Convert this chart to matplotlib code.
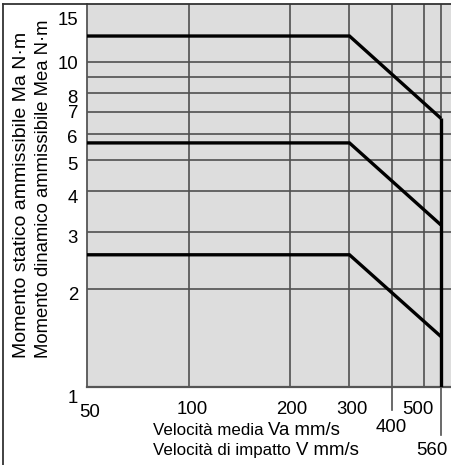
import matplotlib
matplotlib.use("Agg")
import matplotlib.pyplot as plt
import matplotlib.transforms as mtransforms
from matplotlib.lines import Line2D
from matplotlib.ticker import NullLocator

plt.rcParams['font.family'] = ['Liberation Sans', 'DejaVu Sans']

W, H, DPI = 451, 465, 100

# ---------------- data ----------------
curve_x = [50, 300, 560]
curve_top = [12.0, 12.0, 6.7]
curve_mid = [5.63, 5.63, 3.15]
curve_low = [2.55, 2.55, 1.43]
vline_x = [560, 560]
vline_y = [1.0, 6.7]

x_grid = [100, 200, 300, 400, 500, 560]
y_grid = [2, 3, 4, 5, 6, 7, 8, 9, 10]

x_tick_vals = [50, 100, 200, 300, 500, 400, 560]
x_tick_labels = ['50', '100', '200', '300', '500', '400', '560']
y_tick_vals = [1, 2, 3, 4, 5, 6, 7, 8, 10, 15]
y_tick_labels = ['1', '2', '3', '4', '5', '6', '7', '8', '10', '15']

ylabel_lines = ['Momento statico ammissibile Ma N·m',
                'Momento dinamico ammissibile Mea N·m']
xlabel_parts = [('Velocità media ', 'Va mm/s'),
                ('Velocità di impatto ', 'V mm/s')]

# ---------------- figure ----------------
fig = plt.figure(figsize=(W / DPI, H / DPI), dpi=DPI)
fig.patch.set_facecolor('white')
ax_left, ax_bottom_px, ax_top_px = 87, 387, 4.5
ax = fig.add_axes([ax_left / W, 1 - ax_bottom_px / H,
                   (W - ax_left) / W, (ax_bottom_px - ax_top_px) / H])
ax.set_xscale('log')
ax.set_yscale('log')
ax.set_xlim(50, 600)
ax.set_ylim(1, 15)
ax.set_facecolor('#dddddd')
for axis in (ax.xaxis, ax.yaxis):
    axis.set_major_locator(NullLocator())
    axis.set_minor_locator(NullLocator())

grid_col = '#505050'
for xv in x_grid:
    ax.axvline(xv, color=grid_col, lw=1.2, zorder=1)
for yv in y_grid:
    ax.axhline(yv, color=grid_col, lw=1.2, zorder=1)

for ys in (curve_top, curve_mid, curve_low):
    ax.plot(curve_x, ys, color='black', lw=2.4, zorder=3,
            solid_joinstyle='miter', solid_capstyle='butt')
ax.plot(vline_x, vline_y, color='black', lw=2.4, zorder=3,
        solid_capstyle='butt')

for s in ('right', 'top'):
    ax.spines[s].set_visible(False)
ax.spines['left'].set_color('#555555')
ax.spines['left'].set_linewidth(1.3)
ax.spines['bottom'].set_color('#555555')
ax.spines['bottom'].set_linewidth(1.6)

# frame lines (figure border)
fig.add_artist(Line2D([3 / W, 3 / W], [0, 1 - 4.5 / H], transform=fig.transFigure,
                      color='#333333', lw=1.3))
fig.add_artist(Line2D([3 / W, 1], [1 - 4.5 / H, 1 - 4.5 / H], transform=fig.transFigure,
                      color='#333333', lw=1.3))


def off(dx, dy):
    return mtransforms.ScaledTranslation(dx / DPI, dy / DPI, fig.dpi_scale_trans)


fs_tick = 13.4
half_cap = 0.716 * fs_tick * DPI / 72 / 2  # px

# x tick labels (pixel offsets of digit centre from axis bottom)
bx = mtransforms.blended_transform_factory(ax.transData, ax.transAxes)
x_off = {50: (3, -23), 100: (3.5, -20), 200: (2, -20), 300: (2, -20),
         500: (-6, -20), 400: (0, -38), 560: (-9, -61.3)}
for v, lab in zip(x_tick_vals, x_tick_labels):
    dx, dy = x_off[v]
    ax.text(v, 0, lab, transform=bx + off(dx, dy - half_cap), ha='center', va='baseline',
            fontsize=fs_tick, clip_on=False)

# extended tick lines for 400 and 560
ax_h_px = ax_bottom_px - ax_top_px
ax.plot([400, 400], [0, -23 / ax_h_px], transform=bx, color=grid_col, lw=1.2, clip_on=False)
ax.plot([560, 560], [0, -48 / ax_h_px], transform=bx, color=grid_col, lw=1.2, clip_on=False)

# y tick labels
by = mtransforms.blended_transform_factory(ax.transAxes, ax.transData)
y_off = {15: -13.8, 10: -0.7, 8: -3, 7: 1, 6: -2.3, 5: -3.5, 4: -5, 3: -4.5, 2: -4, 1: -9.7}
for v, lab in zip(y_tick_vals, y_tick_labels):
    dy = y_off.get(v, 0)
    ax.text(0, v, lab, transform=by + off(-9, dy - half_cap), ha='right', va='baseline',
            fontsize=fs_tick, clip_on=False)

# y axis label (two rotated lines)
for i, line in enumerate(ylabel_lines):
    xc = [21.7, 43.3][i]
    fs = [14.0, 13.3][i]
    fig.text(xc / W, 1 - 358 / H, line, rotation=90, ha='center', va='bottom',
             fontsize=fs)

# x axis label (mixed sizes)
fig.canvas.draw()
renderer = fig.canvas.get_renderer()
for i, (small, big) in enumerate(xlabel_parts):
    base_y = [434.7, 454.7][i]
    t1 = fig.text(153 / W, 1 - base_y / H, small, ha='left', va='baseline', fontsize=12.2)
    bb = t1.get_window_extent(renderer=renderer)
    fig.text(bb.x1 / W, 1 - base_y / H, big, ha='left', va='baseline', fontsize=13.4)

fig.savefig('out.png', dpi=DPI)
